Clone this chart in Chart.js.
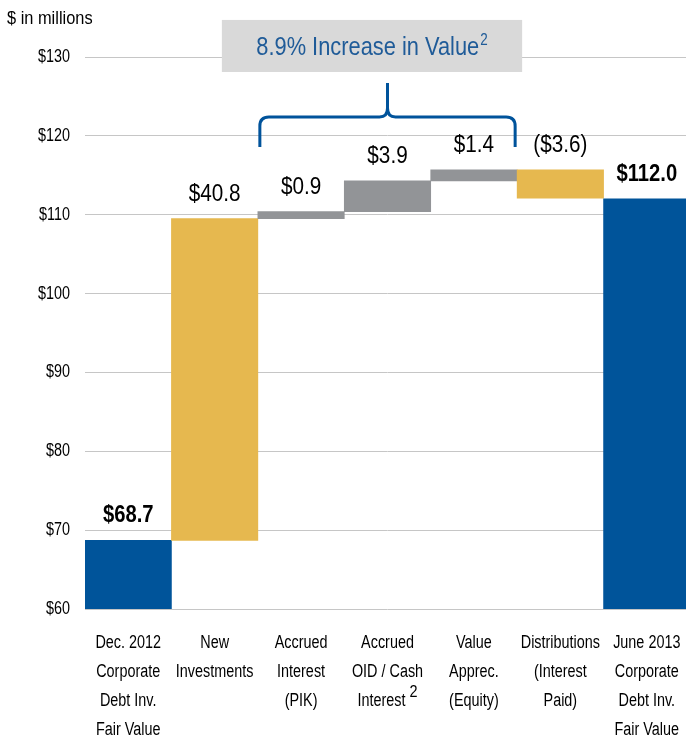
<!DOCTYPE html>
<html>
<head>
<meta charset="utf-8">
<script src="https://cdn.jsdelivr.net/npm/chart.js@4/dist/chart.umd.min.js"></script>
<style>
html, body { margin: 0; padding: 0; background: #fff; overflow: hidden; }
#wrap { position: relative; width: 690px; height: 739px; }
</style>
</head>
<body>
<div id="wrap"><canvas id="chart"></canvas></div>
<script>
// waterfall data ($ in millions)
var categories = [
    ['Dec. 2012', 'Corporate', 'Debt Inv.', 'Fair Value'],
    ['New', 'Investments'],
    ['Accrued', 'Interest', '(PIK)'],
    ['Accrued', 'OID / Cash', 'Interest^2'],
    ['Value', 'Apprec.', '(Equity)'],
    ['Distributions', '(Interest', 'Paid)'],
    ['June 2013', 'Corporate', 'Debt Inv.', 'Fair Value']
];
var barStart = [60, 68.7, 109.5, 110.4, 114.3, 115.7, 60];
var barEnd = [68.7, 109.5, 110.4, 114.3, 115.7, 112.1, 112.0];
var valueLabels = ['$68.7', '$40.8', '$0.9', '$3.9', '$1.4', '($3.6)', '$112.0'];
var barKind = ['total', 'change', 'accrual', 'accrual', 'accrual', 'change', 'total'];
var yTicks = [60, 70, 80, 90, 100, 110, 120, 130];
var calloutText = '8.9% Increase in Value';
var calloutSup = '2';
var braceFirst = 2, braceLast = 4;

var SANS = '"Liberation Sans", Arial, sans-serif';
var colors = { total: '#00549A', change: '#E6B84F', accrual: '#929497' };

var ranges = [];
for (let i = 0; i < barStart.length; i++) {
    ranges.push([barStart[i], barEnd[i]]);
}

// text squeezed horizontally, like the narrow face in the original
function squeezed(ctx, text, x, y, font, sx, align) {
    ctx.save();
    ctx.font = font;
    ctx.textAlign = align || 'center';
    ctx.translate(x, y);
    ctx.scale(sx, 1);
    ctx.fillText(text, 0, 0);
    var w = ctx.measureText(text).width * sx;
    ctx.restore();
    return w;
}

function textWidth(ctx, text, font, sx) {
    ctx.save();
    ctx.font = font;
    var w = ctx.measureText(text).width * sx;
    ctx.restore();
    return w;
}

var overlay = {
    id: 'overlay',
    afterDraw: function(chart) {
        var ctx = chart.ctx;
        var xs = chart.scales.x, ys = chart.scales.y;
        var area = chart.chartArea;
        var half = xs.width / categories.length / 2;
        var tickFont = '18px ' + SANS;

        ctx.save();
        ctx.fillStyle = '#000';
        ctx.textBaseline = 'alphabetic';

        // y tick labels
        ctx.textBaseline = 'middle';
        yTicks.forEach(function(v) {
            squeezed(ctx, '$' + v, area.left - 15, ys.getPixelForValue(v), tickFont, 0.8, 'right');
        });
        ctx.textBaseline = 'alphabetic';

        // category labels
        for (let i = 0; i < categories.length; i++) {
            var cx = xs.getPixelForValue(i);
            categories[i].forEach(function(line, j) {
                var by = area.bottom + 39 + j * 29;
                if (line.indexOf('^') >= 0) {
                    var parts = line.split('^');
                    var w0 = textWidth(ctx, parts[0], tickFont, 0.8);
                    var w1 = textWidth(ctx, parts[1], '17px ' + SANS, 0.85);
                    var sx0 = cx - (w0 + 4 + w1) / 2;
                    squeezed(ctx, parts[0], sx0, by, tickFont, 0.8, 'left');
                    squeezed(ctx, parts[1], sx0 + w0 + 4, by - 9, '17px ' + SANS, 0.85, 'left');
                } else {
                    squeezed(ctx, line, cx, by, tickFont, 0.8, 'center');
                }
            });
        }

        // value labels above bars
        for (let i = 0; i < valueLabels.length; i++) {
            var top = ys.getPixelForValue(Math.max(barStart[i], barEnd[i]));
            var bold = barKind[i] == 'total';
            squeezed(ctx, valueLabels[i], xs.getPixelForValue(i), top - 18,
                (bold ? 'bold ' : '') + '23px ' + SANS, bold ? 0.88 : 0.9, 'center');
        }

        // unit note
        squeezed(ctx, '$ in millions', 7, 24, '18px ' + SANS, 0.91, 'left');
        ctx.restore();

        // brace over the accrual bars
        var xl = xs.getPixelForValue(braceFirst) - half + 2;
        var xr = xs.getPixelForValue(braceLast) + half - 2;
        var xc = (xl + xr) / 2;
        var yEnd = ys.getPixelForValue(118.6);
        var yMid = ys.getPixelForValue(122.4);
        var yTip = ys.getPixelForValue(126.7);
        var r = 9;
        ctx.save();
        ctx.strokeStyle = '#00539B';
        ctx.lineWidth = 3;
        ctx.beginPath();
        ctx.moveTo(xl, yEnd);
        ctx.lineTo(xl, yMid + r);
        ctx.quadraticCurveTo(xl, yMid, xl + r, yMid);
        ctx.lineTo(xc - 8, yMid);
        ctx.quadraticCurveTo(xc, yMid, xc, yMid - 9);
        ctx.lineTo(xc, yTip);
        ctx.moveTo(xc, yMid - 9);
        ctx.quadraticCurveTo(xc, yMid, xc + 8, yMid);
        ctx.lineTo(xr - r, yMid);
        ctx.quadraticCurveTo(xr, yMid, xr, yMid + r);
        ctx.lineTo(xr, yEnd);
        ctx.stroke();
        ctx.restore();

        // callout box
        var bx0 = xl - 38, bx1 = xr + 7;
        var by0 = ys.getPixelForValue(134.7), by1 = ys.getPixelForValue(128.1);
        ctx.save();
        ctx.fillStyle = '#D9D9D9';
        ctx.fillRect(bx0, by0, bx1 - bx0, by1 - by0);
        ctx.fillStyle = '#1F5B98';
        var mainFont = '26px ' + SANS, supFont = '16px ' + SANS;
        var w = textWidth(ctx, calloutText, mainFont, 0.84);
        var ws = textWidth(ctx, calloutSup, supFont, 0.84);
        var tx = (bx0 + bx1) / 2 - (w + ws + 1) / 2;
        var base = (by0 + by1) / 2 + 9;
        squeezed(ctx, calloutText, tx, base, mainFont, 0.84, 'left');
        squeezed(ctx, calloutSup, tx + w + 1, base - 10, supFont, 0.84, 'left');
        ctx.restore();
    }
};

var ctx = document.getElementById('chart').getContext('2d');
var chart = new Chart(ctx, {
    type: 'bar',
    data: {
        labels: categories,
        datasets: [{
            data: ranges,
            backgroundColor: barKind.map(function(k) { return colors[k]; }),
            borderWidth: 0,
            barPercentage: 1,
            categoryPercentage: 1
        }]
    },
    options: {
        responsive: true,
        maintainAspectRatio: false,
        animation: false,
        layout: {
            padding: { top: 57, right: 0, bottom: 0, left: 0 }
        },
        plugins: {
            legend: { display: false },
            tooltip: { enabled: false }
        },
        scales: {
            x: {
                grid: { display: false, drawTicks: false },
                border: { display: false },
                ticks: { display: false },
                afterFit: function(s) {
                    s.height = 130;
                    s.paddingLeft = 0;
                    s.paddingRight = 0;
                }
            },
            y: {
                min: 60,
                max: 130,
                afterBuildTicks: function(s) {
                    s.ticks = yTicks.map(function(v) { return { value: v }; });
                },
                grid: { color: '#C6C6C6', lineWidth: 1, drawTicks: false },
                border: { display: false },
                ticks: { display: false },
                afterFit: function(s) {
                    s.width = 85;
                    s.paddingTop = 0;
                    s.paddingBottom = 0;
                }
            }
        }
    },
    plugins: [overlay]
});
</script>
</body>
</html>
